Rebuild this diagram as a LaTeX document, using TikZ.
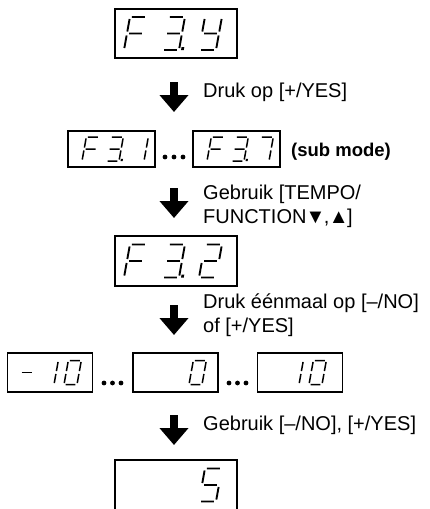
\documentclass[tikz,border=0pt]{standalone}
\usepackage{fontspec}
\setmainfont{Liberation Sans}
\usetikzlibrary{arrows.meta,positioning}

% seven segment pieces, unit cell 1 x 1
\newcommand{\sgA}{(0.12,1) -- (0.88,1)}
\newcommand{\sgB}{(1,0.94) -- (1,0.56)}
\newcommand{\sgC}{(1,0.44) -- (1,0.06)}
\newcommand{\sgD}{(0.12,0) -- (0.88,0)}
\newcommand{\sgE}{(0,0.44) -- (0,0.06)}
\newcommand{\sgF}{(0,0.94) -- (0,0.56)}
\newcommand{\sgG}{(0.12,0.5) -- (0.88,0.5)}

\begin{document}
\begin{tikzpicture}[
  x=1pt, y=-1pt,
  panel/.style={draw,line width=1.4pt,inner sep=0pt,outer sep=0pt},
  bigpanel/.style={panel,minimum width=122pt,minimum height=49pt},
  smallpanel/.style={panel,minimum width=87pt,minimum height=36pt},
  rowpanel/.style={panel,minimum width=85pt,minimum height=39pt},
  bigdigit/.style={xslant=0.18,x=17pt,y=33pt,line width=1.9pt},
  smalldigit/.style={xslant=0.18,x=13pt,y=24pt,line width=1.5pt},
  lbl/.style={anchor=base west,inner sep=0pt,align=left,font=\fontsize{20}{24}\selectfont},
  pressarrow/.style={line width=8.5pt,-{Triangle[length=17pt,width=28pt]}},
  lcdF/.pic={\draw \sgA \sgF \sgE \sgG;},
  lcdthree/.pic={\draw \sgA \sgB \sgG \sgC \sgD;},
  lcdY/.pic={\draw \sgF \sgB \sgG \sgC \sgD;},
  lcdtwo/.pic={\draw \sgA \sgB \sgG \sgE \sgD;},
  lcdone/.pic={\draw \sgB \sgC;},
  lcdseven/.pic={\draw \sgA \sgB \sgC;},
  lcdzero/.pic={\draw \sgA \sgB \sgC \sgD \sgE \sgF;},
  lcdfive/.pic={\draw \sgA \sgF \sgG \sgC \sgD;},
  lcdminus/.pic={\draw \sgG;},
  lcddp/.pic={\fill (1.12,0) rectangle (1.28,0.09);},
]
\path[use as bounding box] (0,0) rectangle (430,509);
\clip (0,0) rectangle (430,509);

% ---------- F3.Y ----------
\node[bigpanel] (p1) at (176,33.5) {};
\path (124,50) pic[bigdigit] {lcdF};
\path (162,50) pic[bigdigit] {lcdthree};
\path (162,50) pic[bigdigit] {lcddp};
\path (199,50) pic[bigdigit] {lcdY};

\coordinate (a1t) at (174,82);
\coordinate (a1b) at (174,112);
\draw[pressarrow] (a1t) -- (a1b);
\node[lbl] (l1) at (203,97) {Druk op [+/YES]};

% ---------- F3.1 ... F3.7 ----------
\node[smallpanel] (p2a) at (111.5,149) {};
\node[smallpanel] (p2b) at (236.5,149) {};
\path (82,161) pic[smalldigit] {lcdF};
\path (106,161) pic[smalldigit] {lcdthree};
\path (106,161) pic[smalldigit] {lcddp};
\path (131,161) pic[smalldigit] {lcdone};
\path (207,161) pic[smalldigit] {lcdF};
\path (231,161) pic[smalldigit] {lcdthree};
\path (231,161) pic[smalldigit] {lcddp};
\path (256,161) pic[smalldigit] {lcdseven};
\foreach \dx in {0,9,18} \fill (165+\dx,157) circle (2.4pt);
\node[anchor=base west,inner sep=0pt,font=\fontsize{18.5}{22}\selectfont\bfseries] (sub) at (291,156) {(sub mode)};

\coordinate (a2t) at (174,188);
\coordinate (a2b) at (174,218);
\draw[pressarrow] (a2t) -- (a2b);
\node[lbl] (l2) at (203,223) {Gebruik [TEMPO/\\FUNCTION\kern-1pt▼\kern-1.5pt,\kern-0.5pt▲\kern-1.5pt]};

% ---------- F3.2 ----------
\node[bigpanel,minimum height=50pt] (p3) at (176,261) {};
\path (124,277.5) pic[bigdigit] {lcdF};
\path (162,277.5) pic[bigdigit] {lcdthree};
\path (162,277.5) pic[bigdigit] {lcddp};
\path (199,277.5) pic[bigdigit] {lcdtwo};

\coordinate (a3t) at (174,305);
\coordinate (a3b) at (174,335);
\draw[pressarrow] (a3t) -- (a3b);
\node[lbl] (l3) at (203,332) {Druk éénmaal op [–/NO]\\of [+/YES]};

% ---------- -10 ... 0 ... 10 ----------
\node[rowpanel] (p4a) at (50,372.5) {};
\node[rowpanel] (p4b) at (175.5,372.5) {};
\node[rowpanel] (p4c) at (300,372.5) {};
\path (18,384.5) pic[smalldigit] {lcdminus};
\path (41,384.5) pic[smalldigit] {lcdone};
\path (64,384.5) pic[smalldigit] {lcdzero};
\path (189,384.5) pic[smalldigit] {lcdzero};
\path (286,384.5) pic[smalldigit] {lcdone};
\path (309,384.5) pic[smalldigit] {lcdzero};
\foreach \dx in {0,8.5,17} {
  \fill (104+\dx,383) circle (2.4pt);
  \fill (229+\dx,383) circle (2.4pt);
}

\coordinate (a4t) at (174,415);
\coordinate (a4b) at (174,445);
\draw[pressarrow] (a4t) -- (a4b);
\node[lbl] (l4) at (203,430) {Gebruik [–/NO], [+/YES]};

% ---------- 5 ----------
\node[bigpanel,minimum height=50pt] (p5) at (176,485) {};
\path (199,501.5) pic[bigdigit] {lcdfive};

\end{tikzpicture}
\end{document}
